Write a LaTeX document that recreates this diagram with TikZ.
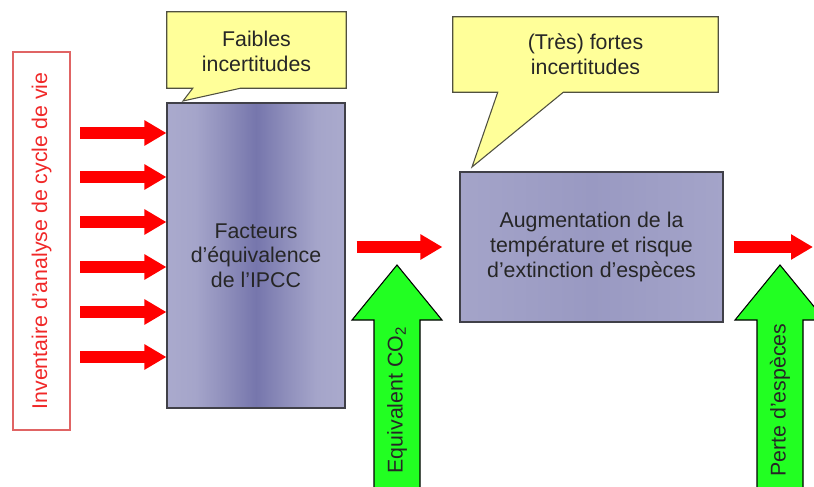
\documentclass[tikz,border=0pt]{standalone}
\usepackage{fontspec}
\setmainfont{Liberation Sans}
\usetikzlibrary{arrows.meta}

\definecolor{rouge}{HTML}{FF0000}
\definecolor{rougetexte}{HTML}{F02828}
\definecolor{rougebord}{HTML}{E06464}
\definecolor{bulle}{HTML}{FFFF99}
\definecolor{bullebord}{HTML}{505040}
\definecolor{violetclair}{HTML}{AAAACD}
\definecolor{violetfonce}{HTML}{7676AC}
\definecolor{violetbord}{HTML}{A4A4C9}
\definecolor{violetmoyen}{HTML}{9999C2}
\definecolor{boitebord}{HTML}{404048}
\definecolor{vert}{HTML}{22FF22}

% degrade doux pour la boite des facteurs
\pgfdeclarehorizontalshading{facteurs}{100bp}{color(0bp)=(violetclair); color(25bp)=(violetclair);
  color(33bp)=(violetclair!90!violetfonce); color(41bp)=(violetclair!50!violetfonce);
  color(50bp)=(violetfonce); color(59bp)=(violetclair!50!violetfonce);
  color(67bp)=(violetclair!90!violetfonce); color(75bp)=(violetclair); color(100bp)=(violetclair)}

\begin{document}
\begin{tikzpicture}[x=0.75pt,y=-0.75pt,
    txt/.style={font=\fontsize{16}{18.5}\selectfont, align=center, text=black!85},
    boite/.style={draw=boitebord, line width=0.8pt, txt},
    bullepath/.style={draw=bullebord, fill=bulle, line width=0.8pt},
    fleche/.style={draw=rouge, line width=9pt, -{Triangle[length=16.5pt,width=18pt]}},
    flecheverte/.style={draw=black, fill=vert, line width=0.8pt}]

      % cadre de l'image
      \useasboundingbox (0,0) rectangle (814,486);
      \clip (0,0) rectangle (814,486);

      % inventaire (texte vertical)
      \node[draw=rougebord, line width=0.8pt, rotate=90, minimum width=283.5pt,
            minimum height=42.75pt, txt, text=rougetexte] (inv) at (41.5,241)
            {Inventaire d'analyse de cycle de vie};

      % boite des facteurs
      \node[boite, shading=facteurs, minimum width=133.5pt, minimum height=228.75pt] (f) at (256,255.5)
            {Facteurs\\d'équivalence\\de l'IPCC};

      % boite augmentation de temperature
      \node[boite, left color=violetbord, right color=violetbord, middle color=violetmoyen,
            minimum width=197.25pt, minimum height=112.5pt] (a) at (591.5,247)
            {Augmentation de la\\température et risque\\d'extinction d'espèces};

      % bulle 1
      \node[txt, minimum width=134.25pt, minimum height=57pt] (c1) at (256.5,50) {};
      \coordinate (p1) at (183,101);
      \path[bullepath] (c1.north west) -- (c1.north east) -- (c1.south east)
        -- ([xshift=-79.5pt]c1.south east) -- (p1) -- ([xshift=19.5pt]c1.south west)
        -- (c1.south west) -- cycle;
      \node[txt, yshift=-1pt] at (c1) {Faibles\\incertitudes};

      % bulle 2
      \node[txt, minimum width=198.75pt, minimum height=56.25pt] (c2) at (585.5,54.5) {};
      \coordinate (p2) at (472,167);
      \path[bullepath] (c2.north west) -- (c2.north east) -- (c2.south east)
        -- ([xshift=-116.25pt]c2.south east) -- (p2) -- ([xshift=33.75pt]c2.south west)
        -- (c2.south west) -- cycle;
      \node[txt] at (c2) {(Très) fortes\\incertitudes};

      % fleches rouges d'entree
      \foreach \y [count=\i] in {133,177,222,267,312,357} {
        \coordinate (e\i) at (80,\y);
        \draw[fleche] (e\i) -- (e\i -| f.west);
      }

      % fleches rouges entre les boites
      \coordinate (sortie) at (813,247);
      \draw[fleche] ([xshift=8.25pt]f.east |- a.west) -- ([xshift=-12.75pt]a.west);
      \draw[fleche] ([xshift=7.5pt]a.east) -- (sortie);

      % fleches vertes
      \foreach \cx/\nom/\txt in {397/eq/{Equivalent CO\textsubscript{2}},780/pe/{Perte d'espèces}} {
        \draw[flecheverte] (\cx-23,500) -- (\cx-23,320) -- (\cx-45,320) -- (\cx,265)
          -- (\cx+45,320) -- (\cx+23,320) -- (\cx+23,500) -- cycle;
        \node[txt, rotate=90] (\nom) at (\cx,400) {\txt};
      }
\end{tikzpicture}
\end{document}
